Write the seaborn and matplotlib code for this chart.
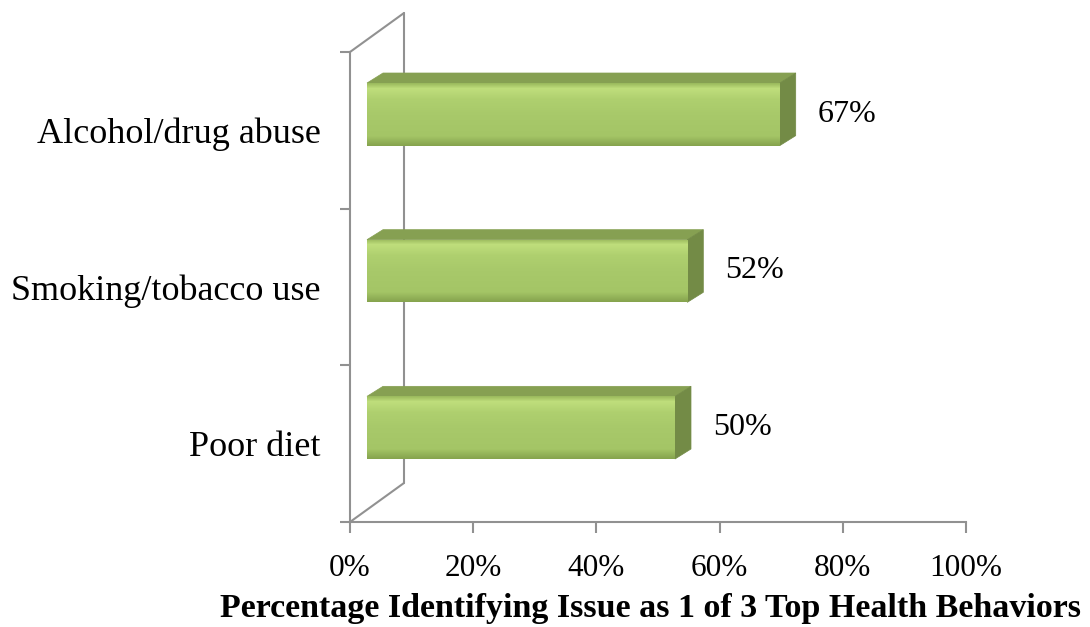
import numpy as np
import matplotlib
matplotlib.use("Agg")
import matplotlib.pyplot as plt
import matplotlib.transforms as mtransforms
from matplotlib.colors import LinearSegmentedColormap
from matplotlib.patches import Polygon
from matplotlib.ticker import FuncFormatter
import seaborn as sns

# Data
categories = ["Alcohol/drug abuse", "Smoking/tobacco use", "Poor diet"]
values = [67, 52, 50]
value_labels = ["67%", "52%", "50%"]
x_ticks = [0, 20, 40, 60, 80, 100]

sns.set_style("white")
plt.rcParams['font.family'] = ['Liberation Serif', 'DejaVu Serif']
plt.rcParams['text.color'] = 'black'
plt.rcParams['xtick.labelcolor'] = 'black'
plt.rcParams['ytick.labelcolor'] = 'black'

fig = plt.figure(figsize=(10.9, 6.27), dpi=100)
ax = fig.add_axes([350 / 1090, 105 / 627, 616 / 1090, 470 / 627])

sns.barplot(x=values, y=categories, orient='h', width=0.4, color='#A8C96A', ax=ax)

ax.set_xlim(0, 100)
ax.set_ylim(2.5, -0.5)

# pseudo-3D offsets in data units (x: percent, y: category units)
px_x = 100 / 616
px_y = 3 / 470
bar_dx, bar_dy = 17 * px_x, -16 * px_y      # bar plane offset from front axis
depth_x, depth_y = 16 * px_x, -10 * px_y    # thickness of each bar
wall_x, wall_y = 54 * px_x, -39 * px_y      # back wall offset

frame_col = '#919191'

# back wall and side lines
ax.plot([wall_x, wall_x], [2.5 + wall_y, -0.5 + wall_y], color=frame_col, lw=1.5, clip_on=False, zorder=1)
ax.plot([0, wall_x], [-0.5, -0.5 + wall_y], color=frame_col, lw=1.5, clip_on=False, zorder=1)
ax.plot([0, wall_x], [2.5, 2.5 + wall_y], color=frame_col, lw=1.5, clip_on=False, zorder=1)

grad = LinearSegmentedColormap.from_list(
    "bar", [(0, '#9BBB5E'), (0.08, '#BFDE7C'), (0.25, '#AFD06F'), (0.5, '#A8C96A'),
            (0.85, '#A4C566'), (1.0, '#86A44E')])
shade = np.linspace(0, 1, 64).reshape(-1, 1)

shift = mtransforms.Affine2D().translate(bar_dx, bar_dy) + ax.transData

for p, lab in zip(ax.patches, value_labels):
    p.set_transform(shift)
    p.set_linewidth(0)
    p.set_edgecolor('none')
    p.set_zorder(3)
    x0, w = p.get_x(), p.get_width()
    yt, yb = p.get_y(), p.get_y() + p.get_height()
    x1 = x0 + w

    # front face gradient
    im = ax.imshow(shade, cmap=grad, aspect='auto', origin='upper',
                   extent=(x0 + bar_dx, x1 + bar_dx, yb + bar_dy, yt + bar_dy), zorder=4)
    im.set_clip_path(p)

    # top face
    top = Polygon([(x0, yt), (x1, yt), (x1 + depth_x, yt + depth_y), (x0 + depth_x, yt + depth_y)],
                  closed=True, facecolor='#86A052', edgecolor='#86A052', lw=0.5,
                  transform=shift, zorder=2, clip_on=False)
    ax.add_patch(top)
    # side face
    side = Polygon([(x1, yt), (x1, yb), (x1 + depth_x, yb + depth_y), (x1 + depth_x, yt + depth_y)],
                   closed=True, facecolor='#738B46', edgecolor='#738B46', lw=0.5,
                   transform=shift, zorder=2, clip_on=False)
    ax.add_patch(side)

    # value label
    ax.text(x1 + bar_dx + 38 * px_x, (yt + yb) / 2 + bar_dy, lab, ha='left', va='center',
            fontsize=23, color='black', zorder=5)

ax.set_xlim(0, 100)
ax.set_ylim(2.5, -0.5)

# axes styling
for s in ['top', 'right']:
    ax.spines[s].set_visible(False)
for s in ['left', 'bottom']:
    ax.spines[s].set_color(frame_col)
    ax.spines[s].set_linewidth(1.5)

ax.set_xticks(x_ticks)
ax.xaxis.set_major_formatter(FuncFormatter(lambda v, pos: f"{v:.0f}%"))
ax.tick_params(axis='x', length=8, width=1.5, color=frame_col, labelsize=22.5, pad=15,
               direction='out', bottom=True, labelcolor='black')

ax.set_yticks([0, 1, 2])
ax.set_yticklabels(categories)
ax.set_yticks([-0.5, 0.5, 1.5, 2.5], minor=True)
ax.tick_params(axis='y', which='major', length=0, labelsize=26, pad=21, labelcolor='black')
ax.tick_params(axis='y', which='minor', length=7, width=1.5, color=frame_col, direction='out', left=True)
ax.set_ylabel("")
ax.set_xlabel("")

fig.text(651 / 1090, 1 - 608 / 627, "Percentage Identifying Issue as 1 of 3 Top Health Behaviors",
         ha='center', va='center', fontsize=24.5, fontweight='bold', color='black')

fig.savefig("out.png", dpi=100)
